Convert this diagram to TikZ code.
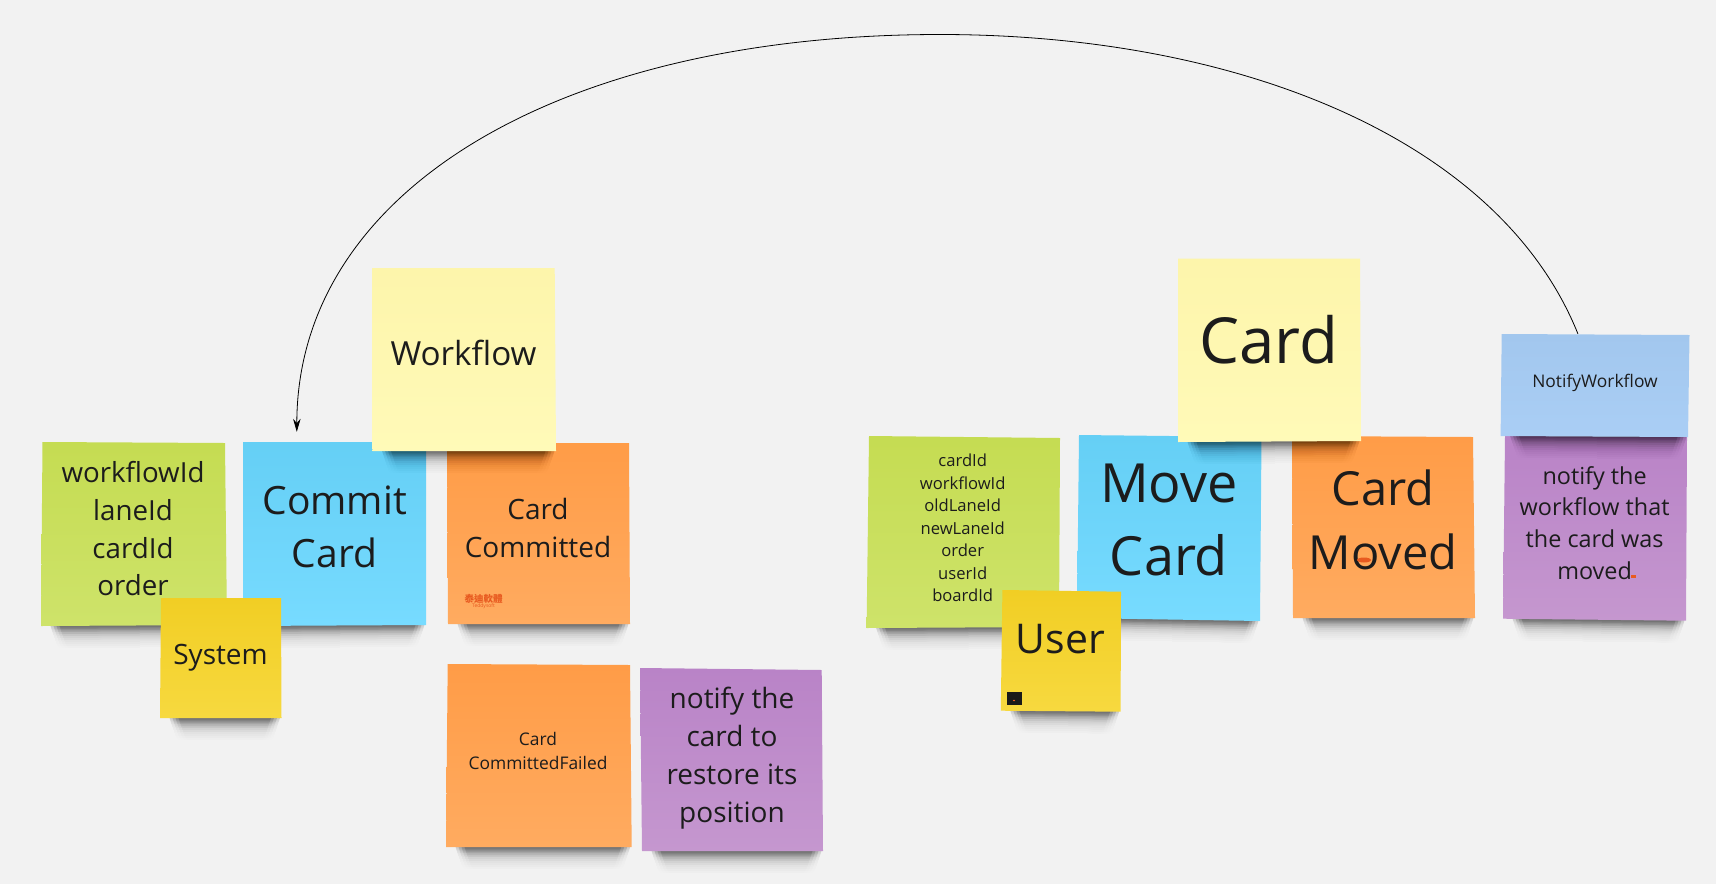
\documentclass[tikz,border=0pt]{standalone}
\usepackage{fontspec}
\setmainfont{Open Sans}
\newfontfamily\cjkfont{Noto Sans CJK TC}
\usetikzlibrary{calc,fit,arrows.meta}
\definecolor{bgc}{HTML}{F2F2F2}
\definecolor{inkc}{HTML}{1C1C1C}
\definecolor{greenT}{HTML}{C5DC52}\definecolor{greenB}{HTML}{CEE36A}
\definecolor{blueT}{HTML}{65CFF5}\definecolor{blueB}{HTML}{77DBFF}
\definecolor{orangeT}{HTML}{FF9C47}\definecolor{orangeB}{HTML}{FFAB60}
\definecolor{paleT}{HTML}{FDF5AB}\definecolor{paleB}{HTML}{FFFAB8}
\definecolor{goldT}{HTML}{F1CE24}\definecolor{goldB}{HTML}{F7D93F}
\definecolor{purpleT}{HTML}{B983C7}\definecolor{purpleB}{HTML}{C597CF}
\definecolor{skyT}{HTML}{A2C7EE}\definecolor{skyB}{HTML}{AACEF5}
\definecolor{logoc}{HTML}{E85A20}
\newcommand\fs[1]{\fontsize{#1}{\dimexpr#1pt*136/100\relax}\selectfont}
\tikzset{
  notetext/.style={inner sep=0pt,align=center,text=inkc},
  conn/.style={black,line width=0.8pt},
  logomark/.style={fill=logoc,draw=none},
}
% name, colour, NW, NE, SE, SW, text position, font size, text
\newcommand\note[9]{%
  \coordinate (bl) at #6;\coordinate (br) at #5;
  \foreach \d in {0,3,6,9}{%
    \foreach \h/\o in {1.5/.10,3/.10,4.5/.09,6/.08,8/.06,10/.05,12/.035,14/.03,16/.02,18/.015,20/.01,22/.01}{%
      \pgfmathsetmacro\opa{\o/4}%
      \pgfmathsetmacro\insl{9+\d+\h*0.35}%
      \pgfmathsetmacro\insr{1+\d+\h*0.35}%
      \pgfmathsetmacro\topl{9+\d}%
      \pgfmathsetmacro\topr{1+\d}%
      \fill[black,opacity=\opa,rounded corners=2.5pt]
        ($(bl)+(\topl,-2)$) -- ($(br)+(-\topr,-2)$) -- ($(br)+(-\insr,\h)$) -- ($(bl)+(\insl,\h)$) -- cycle;
    }%
  }%
  \path[top color=#2T,bottom color=#2B] #3 -- #4 -- #5 -- #6 -- cycle;
  \coordinate (#1a) at #3;\coordinate (#1b) at #4;\coordinate (#1c) at #5;\coordinate (#1d) at #6;
  \node[fit=(#1a)(#1b)(#1c)(#1d),inner sep=0pt] (#1) {};
  \node[notetext,font=\fs{#8}] (#1text) at #7 {#9};
}
\begin{document}
\begin{tikzpicture}[x=1pt,y=-1pt]
\useasboundingbox (0,0) rectangle (1716,884);
\fill[bgc] (0,0) rectangle (1716,884);
% left group
\note{attrsA}{green}{(42.5,442)}{(225,443)}{(227,625)}{(41,626)}{(133,529)}{27.7}{workflowId\\laneId\\cardId\\order}
\note{commit}{blue}{(243,442)}{(426,442)}{(426,625)}{(243,626)}{(334.6,527)}{39}{Commit\\Card}
\note{committed}{orange}{(447,443)}{(629,443)}{(630,624)}{(448,624)}{(538,528)}{28}{Card\\Committed}
\note{workflow}{pale}{(372,268)}{(554.7,268)}{(556,451)}{(372.5,451)}{(463.5,353)}{33.2}{Workflow}
\note{system}{gold}{(161,598)}{(281,598)}{(281.5,718)}{(160,718)}{(220.5,658)}{28}{System}
\note{failed}{orange}{(447.7,664)}{(630,665)}{(631.7,847)}{(446,847)}{(538,751)}{17.4}{Card\\CommittedFailed}
\note{restore}{purple}{(640,668)}{(821.7,670)}{(823,851)}{(642,851)}{(732,758)}{28}{notify the\\card to\\restore its\\position}
% right group
\note{attrsB}{green}{(869,436)}{(1060,438)}{(1059,627)}{(866.6,628)}{(962.7,528)}{16.6}{cardId\\workflowId\\oldLaneId\\newLaneId\\order\\userId\\boardId}
\note{move}{blue}{(1079,435)}{(1261.5,437)}{(1260,621)}{(1077,618)}{(1169,520)}{54}{Move\\Card}
\note{moved}{orange}{(1292,436)}{(1473,437)}{(1475,618)}{(1293,618)}{(1383,520)}{47}{Card\\Moved}
\note{card}{pale}{(1178,258.7)}{(1360,258.7)}{(1361,441)}{(1178,442)}{(1269,340)}{63.5}{Card}
\note{user}{gold}{(1002.4,590)}{(1121,591.7)}{(1120.6,711.7)}{(1000.8,710.7)}{(1060.5,639)}{41}{User}
\note{notifytext}{purple}{(1505,436)}{(1687,437)}{(1686,620.7)}{(1503,618.7)}{(1594.6,523)}{23.4}{notify the\\workflow that\\the card was\\moved}
\note{notify}{sky}{(1501.7,334)}{(1689.5,335)}{(1688,437)}{(1500.6,436)}{(1595,383)}{17.4}{NotifyWorkflow}
% small marks
\node[inner sep=0pt,text=logoc,align=center,font={\cjkfont\bfseries\fontsize{9.5}{9.5}\selectfont}] (logo) at (483.5,598.5) {泰迪軟體};
\node[inner sep=0pt,text=logoc,font={\fontsize{5}{5}\selectfont},anchor=north] (logotwo) at (logo.south) {Teddysoft};
\fill[logomark] (1364,560) ellipse (7 and 2.5);
\fill[logomark] (1631,574.5) rectangle (1636,577.5);
\fill[black!90] (1007.3,692) rectangle (1021.7,704.7);
\fill[logoc] (1014,700.5) ellipse (1.2 and 0.8);
% connector
\coordinate (arcTop) at (940,34.5);
\draw[conn,-{Stealth[length=13pt,width=7.5pt]}] ([xshift=77.5pt]notify.north west)
  .. controls (1500,140) and (1240,34.5) .. (arcTop)
  .. controls (560,34.5) and (297,190) .. ([xshift=54pt,yshift=10pt]commit.north west);
\end{tikzpicture}
\end{document}
